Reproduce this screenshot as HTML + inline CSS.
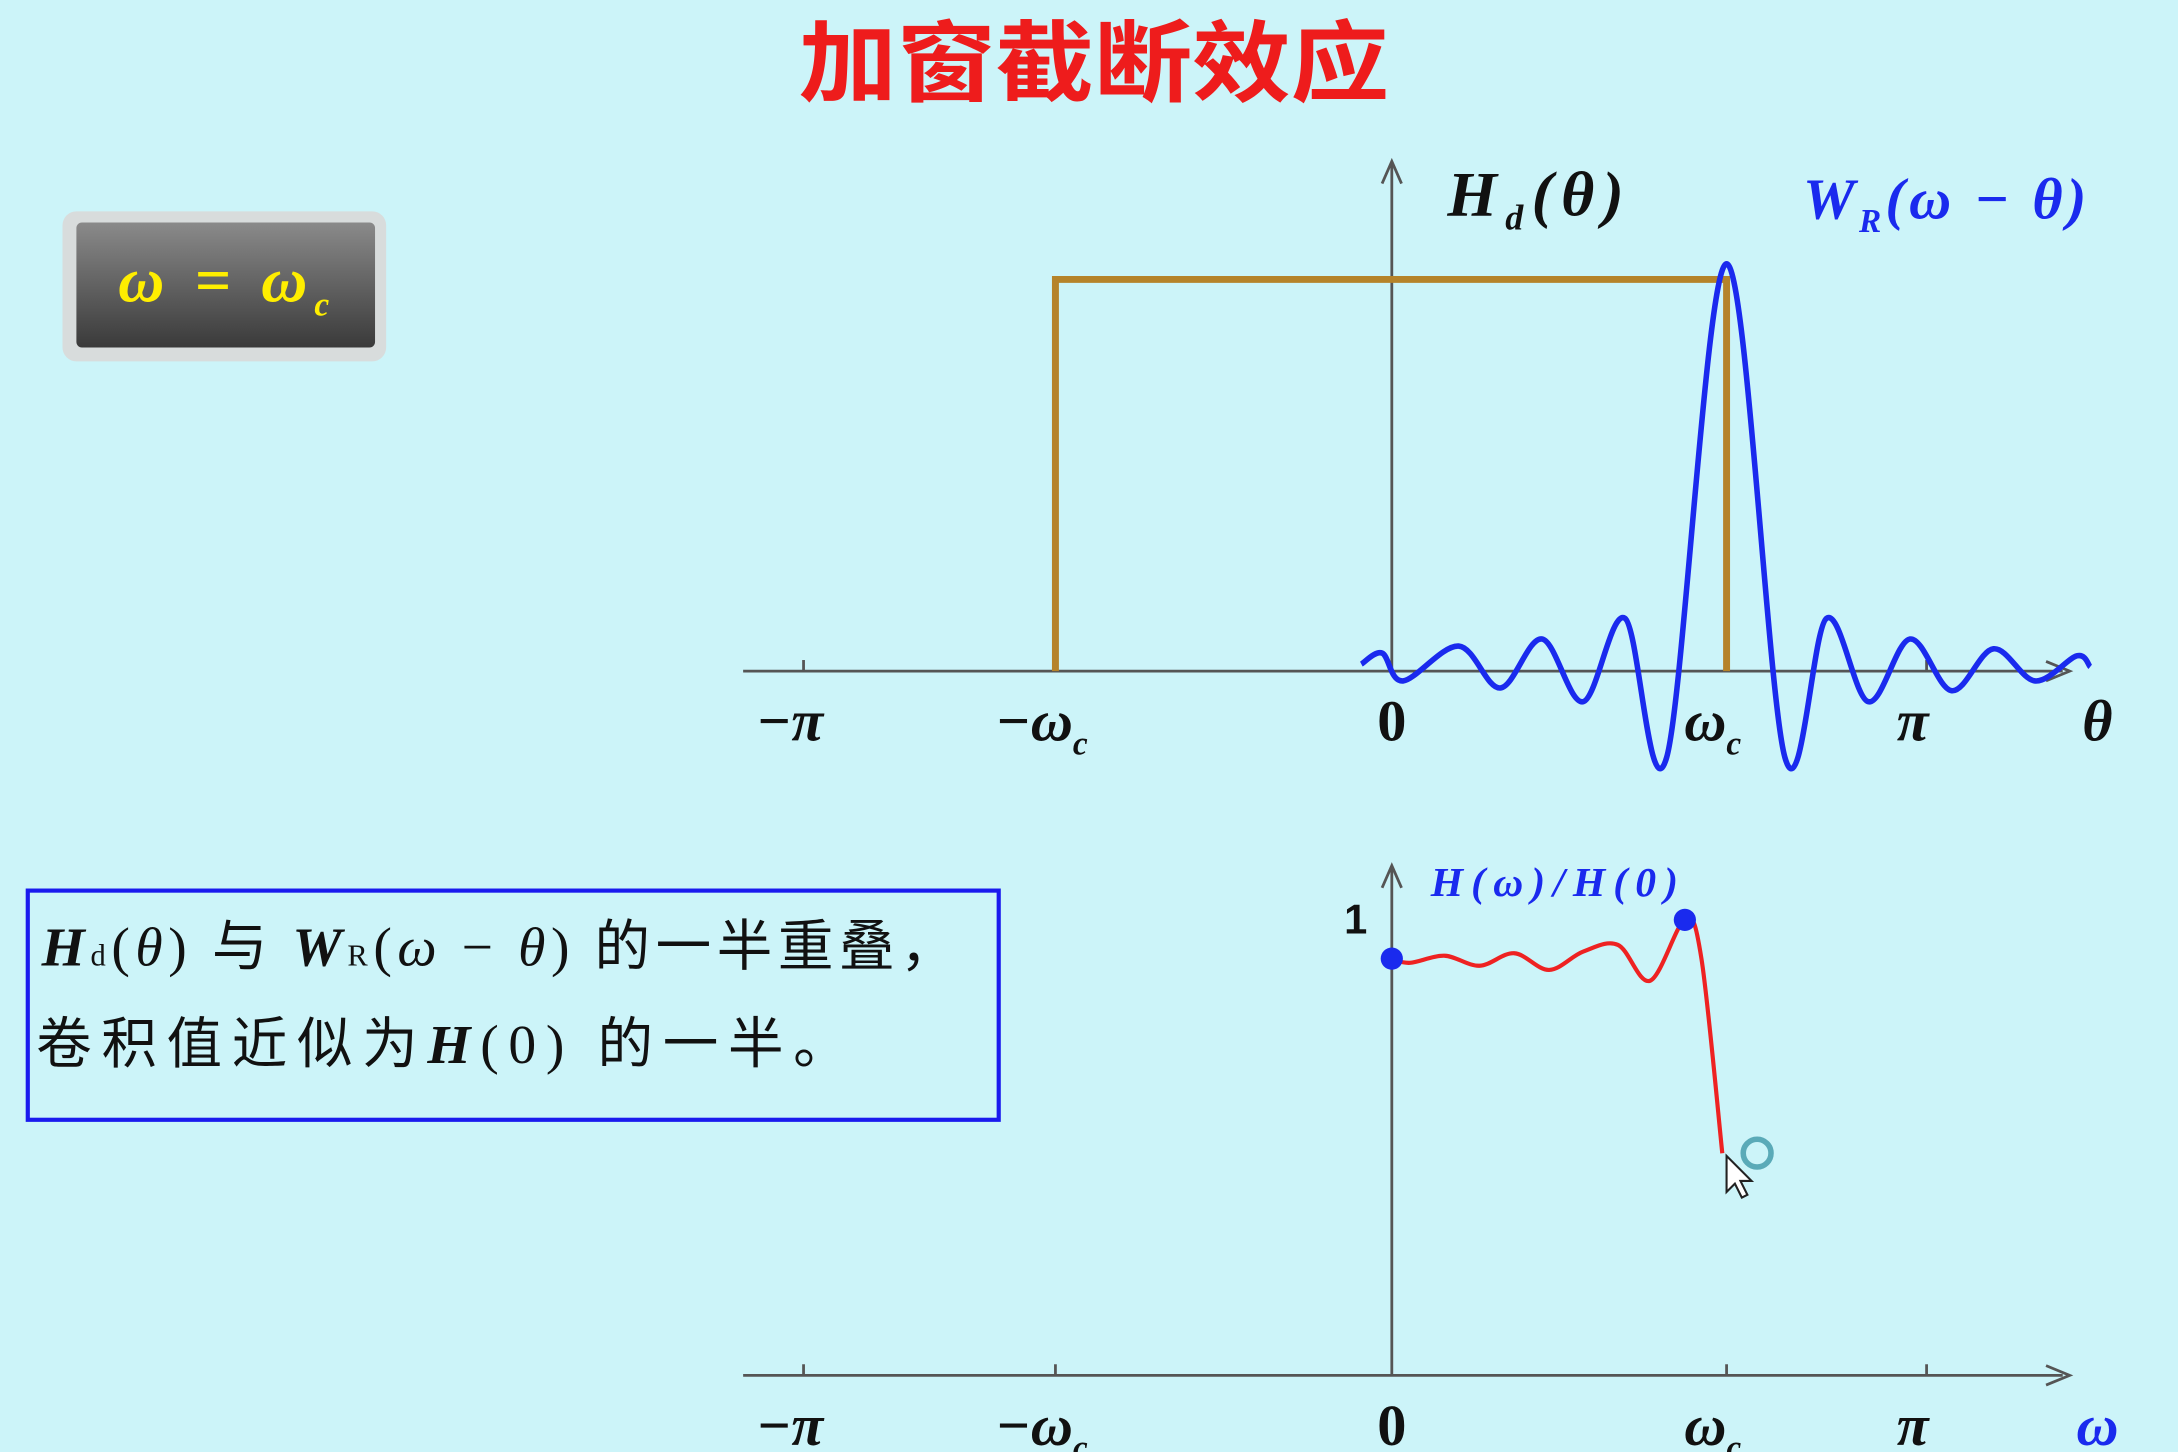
<!DOCTYPE html>
<html><head><meta charset="utf-8"><style>
html,body{margin:0;padding:0;background:#ccf4f9;}
svg{display:block;}
.s{font-family:"Liberation Serif","Noto Serif CJK SC",serif;}
.c{font-family:"Liberation Serif","Noto Sans CJK SC",sans-serif;}
</style></head><body>
<svg id="chart" width="2178" height="1452" viewBox="0 0 1568 1045" xmlns="http://www.w3.org/2000/svg">
<rect x="0" y="0" width="1568" height="1045" fill="#ccf4f9"/>
<text x="575" y="68" textLength="425" lengthAdjust="spacingAndGlyphs" font-size="64" font-weight="bold" fill="#ee1c1c" font-family="'Noto Sans CJK SC',sans-serif">加窗截断效应</text>
<g>
<rect x="45" y="152" width="233" height="108" rx="10" fill="#d8dcdc"/>
<defs><linearGradient id="gb" x1="0" y1="0" x2="0" y2="1"><stop offset="0" stop-color="#8a8a8a"/><stop offset="1" stop-color="#3a3a3a"/></linearGradient></defs>
<rect x="55" y="160" width="215" height="90" rx="4" fill="url(#gb)"/>
<text class="s" x="85" y="217" textLength="152" lengthAdjust="spacing" font-size="46" font-style="italic" font-weight="bold" fill="#ffee00">ω = ω<tspan font-size="24" dy="10">c</tspan></text>
</g>
<g>
<rect x="20" y="641" width="699" height="165" fill="none" stroke="#1a1aee" stroke-width="3"/>
<text class="c" x="30" y="695" textLength="658" lengthAdjust="spacing" font-size="40" fill="#111"><tspan font-style="italic" font-weight="bold">H</tspan><tspan font-size="22">d</tspan>(<tspan font-style="italic">θ</tspan>) 与 <tspan font-style="italic" font-weight="bold">W</tspan><tspan font-size="22">R</tspan>(<tspan font-style="italic">ω</tspan> − <tspan font-style="italic">θ</tspan>) 的一半重叠，</text>
<text class="c" x="26" y="765" textLength="585" lengthAdjust="spacing" font-size="40" fill="#111">卷积值近似为<tspan font-style="italic" font-weight="bold">H</tspan>(0) 的一半。</text>
</g>
<g id="top"></g>
<g id="bot"></g>
</svg>
<script>
// Top chart data (theta in units of pi, normalized amplitude)
const topTheta=[-0.057,-0.018,0.021,0.125,0.203,0.281,0.358,0.436,0.514,0.626,0.735,0.813,0.891,0.969,1.047,1.125,1.203,1.281,1.306];
const topVal=[0.018,0.046,-0.025,0.064,-0.043,0.082,-0.078,0.135,-0.220,1.04,-0.220,0.135,-0.078,0.082,-0.050,0.057,-0.025,0.039,0.011];
const idealEdges=[-0.629,0.626];
const idealHeight=[1];
// Bottom chart data
const botOmega=[0,0.034,0.099,0.164,0.229,0.294,0.358,0.423,0.483,0.548,0.579,0.618];
const botVal=[1.0,0.99,1.007,0.983,1.013,0.973,1.017,1.033,0.947,1.093,1.0,0.533];
const dotOmega=[0,0.548];
const dotVal=[1.0,1.093];
const tickLabels=["−π","−ω","0","ω","π"];
const tickPos=[-1.10,-0.629,0,0.626,1];

const NS="http://www.w3.org/2000/svg";
function mk(p,t,a){const e=document.createElementNS(NS,t);for(const k in a)e.setAttribute(k,a[k]);p.appendChild(e);return e;}
const X0=1002, PX=385;
const xs=v=>X0+v*PX;
const ysT=v=>483-v*282;
const ysB=v=>990-v*300;
function smooth(pts){let d="M"+pts[0][0]+","+pts[0][1];for(let i=0;i<pts.length-1;i++){const p0=pts[Math.max(0,i-1)],p1=pts[i],p2=pts[i+1],p3=pts[Math.min(pts.length-1,i+2)];const c1=[p1[0]+(p2[0]-p0[0])/6,p1[1]+(p2[1]-p0[1])/6],c2=[p2[0]-(p3[0]-p1[0])/6,p2[1]-(p3[1]-p1[1])/6];d+=" C"+c1+" "+c2+" "+p2;}return d;}
function axes(g,y,yTop,tickY,last){
 const a=mk(g,"line",{x1:535,y1:y,x2:1485,y2:y,stroke:"#555","stroke-width":2});
 
 mk(g,"path",{d:`M1473,${y-7} L1490,${y} L1473,${y+7}`,fill:"none",stroke:"#555","stroke-width":2});
 const b=mk(g,"line",{x1:1002,y1:y,x2:1002,y2:yTop,stroke:"#555","stroke-width":2});
 
 mk(g,"path",{d:`M995,${yTop+14} L1002,${yTop-2} L1009,${yTop+14}`,fill:"none",stroke:"#555","stroke-width":2});
 tickPos.forEach((t,i)=>{
  if(t!==0)mk(g,"line",{x1:xs(t),y1:y,x2:xs(t),y2:y-8,stroke:"#555","stroke-width":2});
  const tx=mk(g,"text",{x:xs(t)-(t===0?0:10),y:tickY,"text-anchor":"middle","font-size":42,"font-weight":"bold","font-style":t===0?"normal":"italic",fill:"#111",class:"s"});
  
  
  tx.textContent=tickLabels[i];
  if(tickLabels[i].includes("ω")){const s=mk(tx,"tspan",{"font-size":24,dy:10});s.textContent="c";}
 });
 const l=mk(g,"text",{x:1510,y:tickY,"text-anchor":"middle","font-size":42,"font-style":"italic","font-weight":"bold",fill:last[1],class:"s"});
 
 l.textContent=last[0];
}
const T=document.getElementById("top");
axes(T,483,118,533,["θ","#111"]);
const r=mk(T,"path",{d:`M${xs(idealEdges[0])},483 V${ysT(idealHeight[0])} H${xs(idealEdges[1])} V483`,fill:"none",stroke:"#b5832a","stroke-width":5});

const wp=mk(T,"path",{d:smooth(topTheta.map((t,i)=>[xs(t),ysT(topVal[i])])),fill:"none",stroke:"#1a2aee","stroke-width":4});

const hl=mk(T,"text",{x:1042,y:155,textLength:127,lengthAdjust:"spacing","font-size":46,"font-style":"italic","font-weight":"bold",fill:"#111",class:"s"});

hl.innerHTML='H<tspan font-size="26" dy="10">d</tspan><tspan dy="-10">(θ)</tspan>';
const wl=mk(T,"text",{x:1298,y:157,textLength:204,lengthAdjust:"spacing","font-size":42,"font-style":"italic","font-weight":"bold",fill:"#1a2aee",class:"s"});

wl.innerHTML='W<tspan font-size="24" dy="10">R</tspan><tspan dy="-10">(ω − θ)</tspan>';

const B=document.getElementById("bot");
axes(B,990,625,1040,["ω","#1a2aee"]);
const one=mk(B,"text",{x:976,y:672,"text-anchor":"middle","font-size":30,"font-weight":"bold",fill:"#111","font-family":"Liberation Sans,sans-serif"});
one.textContent="1";
const hl2=mk(B,"text",{x:1030,y:645,textLength:178,lengthAdjust:"spacing","font-size":30,"font-style":"italic","font-weight":"bold",fill:"#1a2aee",class:"s"});
hl2.textContent="H(ω)/H(0)";
const rp=mk(B,"path",{d:smooth(botOmega.map((t,i)=>[xs(t),ysB(botVal[i])])),fill:"none",stroke:"#ee2222","stroke-width":3});

dotOmega.forEach((t,i)=>{const c=mk(B,"circle",{cx:xs(t),cy:ysB(dotVal[i]),r:8,fill:"#1a2aee"});
});
const cur=mk(B,"path",{d:"M1243,832 L1243,858 L1249,852 L1254,862 L1258,860 L1253,850 L1261,850 Z",fill:"#fff",stroke:"#222","stroke-width":1.5});

mk(B,"circle",{cx:1265,cy:830,r:10,fill:"none",stroke:"#5aaab8","stroke-width":4});
</script>
</body></html>
